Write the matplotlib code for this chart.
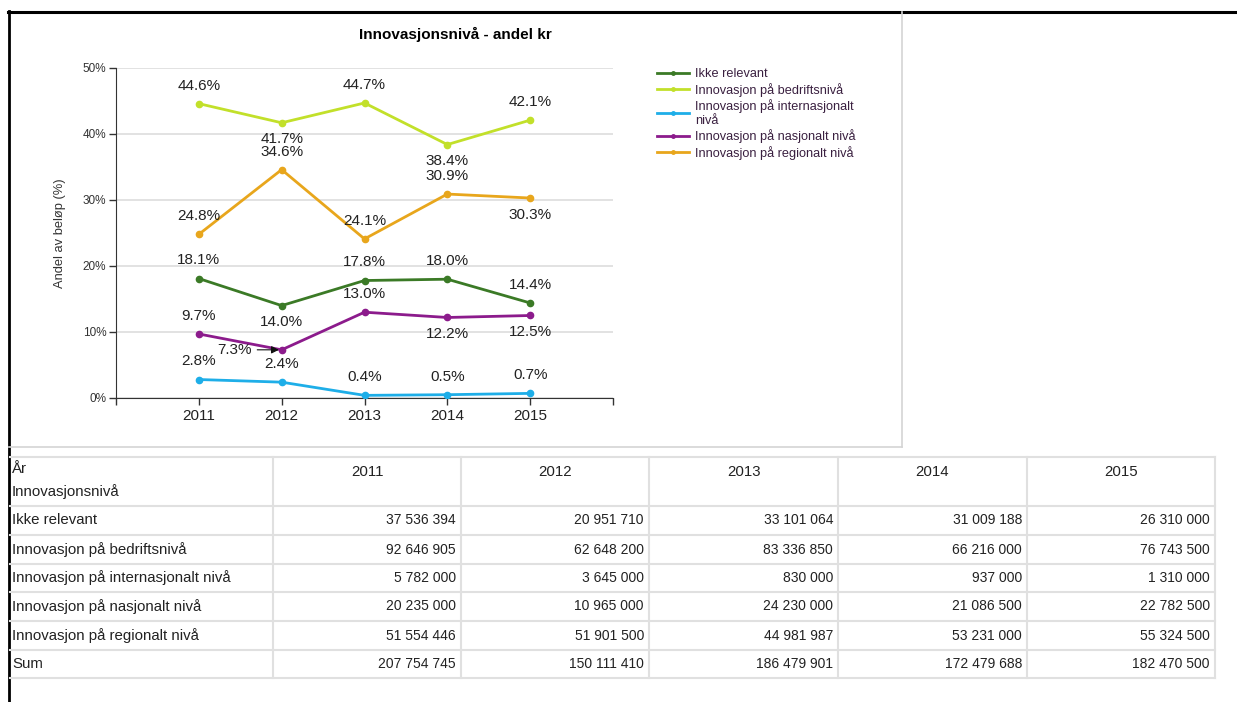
import matplotlib
matplotlib.use("Agg")
import matplotlib.pyplot as plt
from matplotlib.lines import Line2D

plt.rcParams['font.family'] = ['Liberation Sans', 'DejaVu Sans']

# data
years = [2011, 2012, 2013, 2014, 2015]
ikke_relevant = [18.1, 14.0, 17.8, 18.0, 14.4]
bedrift = [44.6, 41.7, 44.7, 38.4, 42.1]
internasjonalt = [2.8, 2.4, 0.4, 0.5, 0.7]
nasjonalt = [9.7, 7.3, 13.0, 12.2, 12.5]
regionalt = [24.8, 34.6, 24.1, 30.9, 30.3]

series_names = ["Ikke relevant", "Innovasjon på bedriftsnivå",
                "Innovasjon på internasjonalt\nnivå",
                "Innovasjon på nasjonalt nivå", "Innovasjon på regionalt nivå"]
colors = ["#3b7a26", "#c2e02a", "#1eaee8", "#8c1b8c", "#e8a61c"]
# label position per point: 1 above, -1 below, 0 left with arrow
label_pos = [[1, -1, 1, 1, 1],
             [1, -1, 1, -1, 1],
             [1, 1, 1, 1, 1],
             [1, 0, 1, -1, -1],
             [1, 1, 1, 1, -1]]

# table
row_names = ["Ikke relevant", "Innovasjon på bedriftsnivå",
             "Innovasjon på internasjonalt nivå", "Innovasjon på nasjonalt nivå",
             "Innovasjon på regionalt nivå", "Sum"]
t_ikke = ["37 536 394", "20 951 710", "33 101 064", "31 009 188", "26 310 000"]
t_bedrift = ["92 646 905", "62 648 200", "83 336 850", "66 216 000", "76 743 500"]
t_intern = ["5 782 000", "3 645 000", "830 000", "937 000", "1 310 000"]
t_nasj = ["20 235 000", "10 965 000", "24 230 000", "21 086 500", "22 782 500"]
t_reg = ["51 554 446", "51 901 500", "44 981 987", "53 231 000", "55 324 500"]
t_sum = ["207 754 745", "150 111 410", "186 479 901", "172 479 688", "182 470 500"]

W, H = 1237, 702
fig = plt.figure(figsize=(W / 100, H / 100), dpi=100)

# background / frame / table layer in pixel coords
bg = fig.add_axes([0, 0, 1, 1])
bg.set_xlim(0, W)
bg.set_ylim(H, 0)
bg.axis("off")
bg.plot([8, W], [11.5, 11.5], color="black", lw=2.2)
bg.plot([8.5, 8.5], [11, H], color="black", lw=2.0)
bg.plot([902, 902], [12, 447], color="#d4d4d4", lw=1.2)
bg.plot([9, 902], [447, 447], color="#d4d4d4", lw=1.2)

# table grid
col_x = [10, 273, 461, 649, 838, 1027, 1215]
row_y = [457, 506, 535, 564, 592, 621, 650, 678]
grid_c = "#e0e0e0"
for y in row_y:
    bg.plot([col_x[0], col_x[-1]], [y, y], color=grid_c, lw=1.5)
for x in col_x[1:]:
    bg.plot([x, x], [row_y[0], row_y[-1]], color=grid_c, lw=1.5)

fs_t = 10.8
bg.text(12, 469, "År", fontsize=fs_t, va="center", color="#222222")
bg.text(12, 492, "Innovasjonsnivå", fontsize=fs_t, va="center", color="#222222")
for i, yr in enumerate(years):
    bg.text((col_x[i + 1] + col_x[i + 2]) / 2, 472, str(yr), fontsize=fs_t,
            ha="center", va="center", color="#222222")
table_rows = [t_ikke, t_bedrift, t_intern, t_nasj, t_reg, t_sum]
for r, (name, vals) in enumerate(zip(row_names, table_rows)):
    yc = (row_y[r + 1] + row_y[r + 2]) / 2
    bg.text(12, yc, name, fontsize=fs_t, va="center", color="#222222")
    for i, v in enumerate(vals):
        bg.text(col_x[i + 2] - 5, yc, v, fontsize=10, ha="right", va="center",
                color="#222222")

# line chart
ax = fig.add_axes([116 / W, 1 - 398 / H, (613 - 116) / W, (398 - 68) / H])
x = list(range(1, len(years) + 1))
all_series = [ikke_relevant, bedrift, internasjonalt, nasjonalt, regionalt]
for s, name, c, pos in zip(all_series, series_names, colors, label_pos):
    ax.plot(x, s, color=c, lw=2, marker="o", ms=4.5, label=name, zorder=3)
    for xi, v, p in zip(x, s, pos):
        lab = f"{v:.1f}%"
        if p == 1:
            ax.annotate(lab, (xi, v), xytext=(0, 13), textcoords="offset points",
                        ha="center", va="center", fontsize=11, color="#222222")
        elif p == -1:
            ax.annotate(lab, (xi, v), xytext=(0, -12), textcoords="offset points",
                        ha="center", va="center", fontsize=11, color="#222222")
        else:
            ax.annotate(lab, (xi, v), xytext=(-34, 0), textcoords="offset points",
                        ha="center", va="center", fontsize=11, color="#222222",
                        arrowprops=dict(arrowstyle="-|>", color="#111111",
                                        lw=0.8, shrinkA=2, shrinkB=2))

ax.set_xlim(0, 6)
ax.set_ylim(0, 50)
ax.set_xticks(range(0, 7))
ax.set_xticklabels([""] + [str(y) for y in years] + [""], fontsize=11,
                   color="#222222")
ax.set_yticks(range(0, 51, 10))
ax.set_yticklabels([f"{v}%" for v in range(0, 51, 10)], fontsize=8.5,
                   color="#333333")
ax.tick_params(axis="both", length=5, width=1, color="#333333")
ax.tick_params(axis="x", pad=3)
ax.tick_params(axis="y", pad=2)
ax.grid(axis="y", color="#dddddd", lw=1.2)
ax.set_axisbelow(True)
for sp in ["top", "right"]:
    ax.spines[sp].set_visible(False)
ax.spines["left"].set_color("#333333")
ax.spines["bottom"].set_color("#333333")
ax.set_ylabel("Andel av beløp (%)", fontsize=9.3, color="#333333", labelpad=12)
ax.set_title("Innovasjonsnivå - andel kr", fontsize=11, fontweight="bold",
             x=(455 - 116) / (613 - 116), y=1.0, pad=21)

handles = [Line2D([], [], color=c, lw=2, marker="o", ms=2.5) for c in colors]
fig.legend(handles, series_names, loc="upper left",
           bbox_to_anchor=(652 / W, 1 - 63 / H), frameon=False, fontsize=9.2,
           handlelength=2.5, handletextpad=0.45, labelspacing=0.2,
           labelcolor="#3a2040", borderaxespad=0)

fig.savefig("out.png", dpi=100)
